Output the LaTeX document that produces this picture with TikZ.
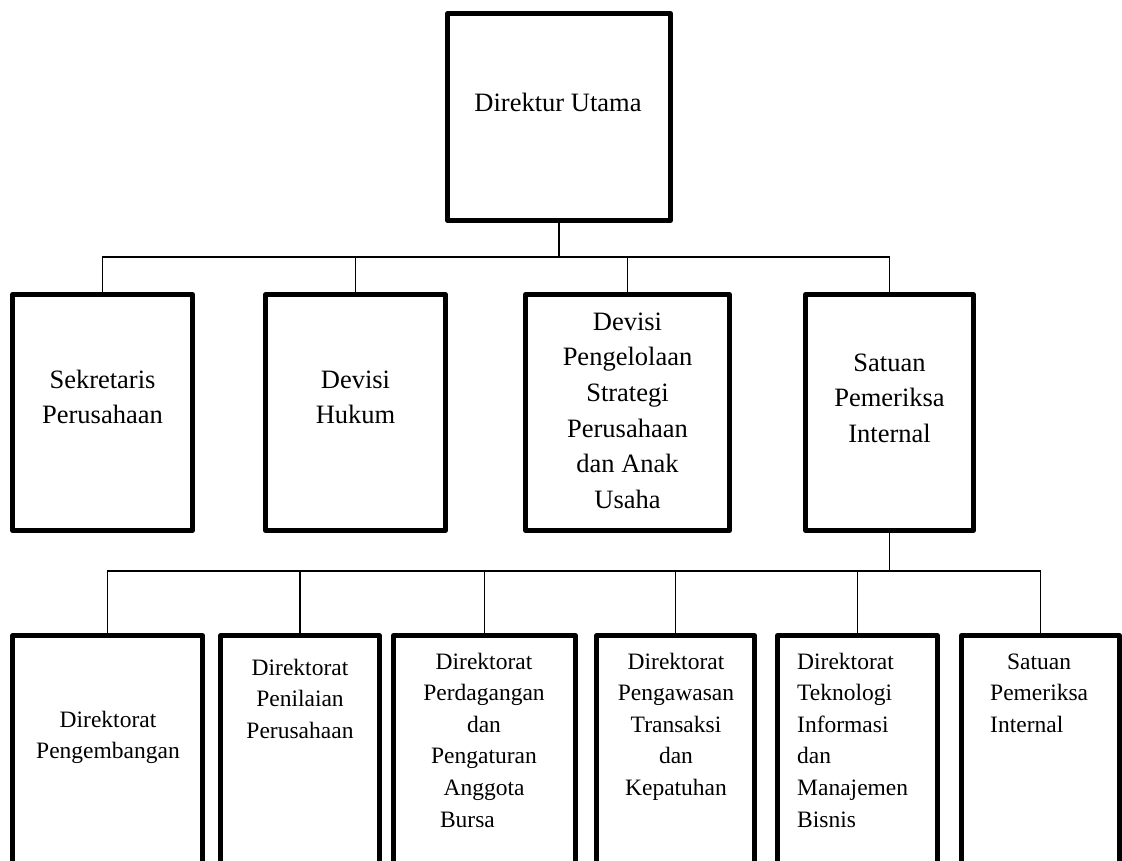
\documentclass[tikz,border=0pt]{standalone}
\usepackage{fontspec}
\setmainfont{Liberation Serif}
\newcommand{\orgtxt}[2][c]{\begin{tabular}[t]{@{}#1@{}}#2\end{tabular}}
\tikzset{
  box/.style={draw=black, line width=4.5pt, line join=round, inner sep=0pt, fill=white},
  conn/.style={draw=black, line width=1.6pt},
  bigtxt/.style={font=\fontsize{26.5}{35.7}\selectfont, inner sep=0pt, anchor=base},
  smalltxt/.style={font=\fontsize{23.5}{31.6}\selectfont, inner sep=0pt, anchor=base},
}
\begin{document}
\begin{tikzpicture}[x=1pt,y=-1pt]
\useasboundingbox (0,0) rectangle (1122,861);
\clip (0,0) rectangle (1122,861);
\fill[white] (0,0) rectangle (1122,861);

% top
\node[box, minimum width=223pt, minimum height=207pt] (top) at (559,117) {};
\node[bigtxt] (ttop) at (558,112) {Direktur Utama};

% row 2
\node[box, minimum width=180pt, minimum height=236pt] (s1) at (102.5,412.5) {};
\node[box, minimum width=180pt, minimum height=236pt] (s2) at (355.5,412.5) {};
\node[box, minimum width=204pt, minimum height=236pt] (s3) at (627.5,412.5) {};
\node[box, minimum width=168pt, minimum height=236pt] (s4) at (889.5,412.5) {};

\node[bigtxt] (ts1) at (102.5,388) {\orgtxt{Sekretaris\\Perusahaan}};
\node[bigtxt] (ts2) at (355.5,388) {\orgtxt{Devisi\\Hukum}};
\node[bigtxt] (ts3) at (627.5,330) {\orgtxt{Devisi\\Pengelolaan\\Strategi\\Perusahaan\\dan Anak\\Usaha}};
\node[bigtxt] (ts4) at (889.5,371) {\orgtxt{Satuan\\Pemeriksa\\Internal}};

% row 3
\node[box, minimum width=190pt, minimum height=300pt] (d1) at (107.5,785.5) {};
\node[box, minimum width=159pt, minimum height=300pt] (d2) at (300,785.5) {};
\node[box, minimum width=182pt, minimum height=300pt] (d3) at (484.5,785.5) {};
\node[box, minimum width=158pt, minimum height=300pt] (d4) at (675.5,785.5) {};
\node[box, minimum width=160pt, minimum height=300pt] (d5) at (857.5,785.5) {};
\node[box, minimum width=158pt, minimum height=300pt] (d6) at (1040.5,785.5) {};

\node[smalltxt] (td1) at (108,727) {\orgtxt{Direktorat\\Pengembangan}};
\node[smalltxt] (td2) at (300,675) {\orgtxt{Direktorat\\Penilaian\\Perusahaan}};
\node[smalltxt] (td3) at (484,669) {\orgtxt{Direktorat\\Perdagangan\\dan\\Pengaturan\\Anggota\\\makebox[88pt][l]{Bursa}}};
\node[smalltxt] (td4) at (676,669) {\orgtxt{Direktorat\\Pengawasan\\Transaksi\\dan\\Kepatuhan}};
\node[smalltxt, anchor=base west] (td5) at (797,669) {\orgtxt[l]{Direktorat\\Teknologi\\Informasi\\dan\\Manajemen\\Bisnis}};
\node[smalltxt, anchor=base west] (td6) at (990,669) {\orgtxt[l]{\multicolumn{1}{@{}c@{}}{Satuan}\\Pemeriksa\\Internal}};

% connectors level 1
\coordinate (busA) at (0,257);
\draw[conn] (top.south) -- (top.south |- busA);
\draw[conn] (s1.north) -- (s1.north |- busA) -- (s4.north |- busA) -- (s4.north);
\foreach \n in {s2,s3}{\draw[conn] (\n.north |- busA) -- (\n.north);}

% connectors level 2
\coordinate (busB) at (0,571);
\draw[conn] (s4.south) -- (s4.south |- busB);
\draw[conn] (d1.north) -- (d1.north |- busB) -- (d6.north |- busB) -- (d6.north);
\foreach \n in {d2,d3,d4,d5}{\draw[conn] (\n.north |- busB) -- (\n.north);}
\end{tikzpicture}
\end{document}
